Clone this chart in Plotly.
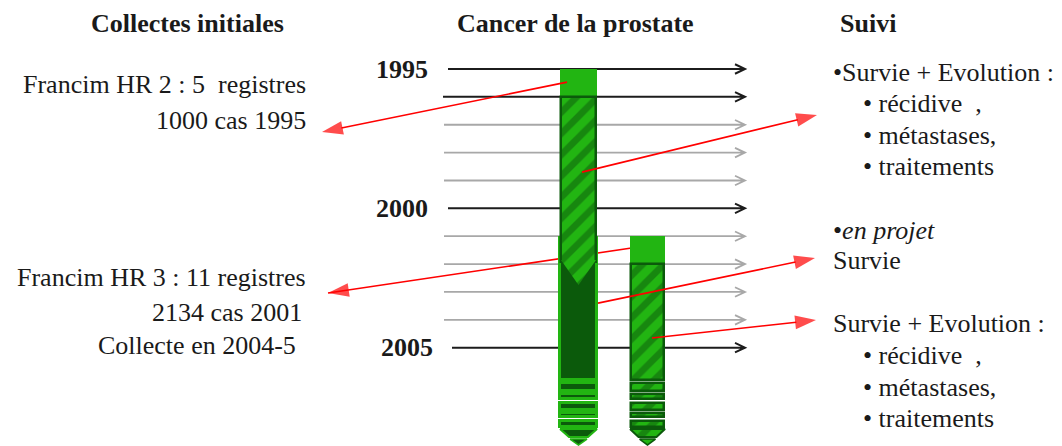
import plotly.graph_objects as go

LIGHT = "#22b512"
DARK = "#0b5a0b"
RED = "#ff0000"
BLACK_LINE = "#1c1c1c"
GREY_LINE = "#a8a8a8"
TEXT = "#1a1a1a"
FONT = "Liberation Serif"

# ---------------- data ----------------
years = [1995, 1996, 1997, 1998, 1999, 2000, 2001, 2002, 2003, 2004, 2005]
year_line_dark = [True, True, False, False, False, True, False, False, False, False, True]
year_line_start = [448, 443, 444, 444, 444, 448, 444, 444, 444, 444, 452]
year_line_end = 745
year_labels = ["1995", "2000", "2005"]
year_label_years = [1995, 2000, 2005]
year_label_right = [430, 430, 435]

bar_pos = [578.5, 647.5]          # column HR2, column HR3
c1_collect = [1995.0, 1996.0]
c1_follow = [1996.0, 2001.93]
c1_follow_tip = 2002.75
c1_dark = [2001.06, 2006.16]
c2_collect = [2001.0, 2002.0]
c2_follow = [2002.0, 2006.16]
dash_start = [2006.27, 2006.66, 2006.98, 2007.34, 2007.63]
dash_end = [2006.55, 2006.84, 2007.23, 2007.49, 2007.85]
taper = [2007.92, 2008.20]
point = [2008.28, 2008.49]

red_from_x = [567, 582, 645, 598, 652]
red_from_y = [1995.47, 1998.70, 2001.35, 2003.40, 2004.65]
red_to_x = [322, 817, 328, 815, 816]
red_to_y = [1997.26, 1996.65, 2003.04, 2001.78, 2004.01]
red_under_bars = [False, False, True, False, False]

# ---------------- page geometry (body has an 8px margin) ----------------
OFF = 8
W, H = 1062 - OFF, 446 - OFF
PX_PER_YEAR = 27.87
Y_TOP = 1995 - (69 - OFF) / PX_PER_YEAR
Y_BOT = Y_TOP + H / PX_PER_YEAR

fig = go.Figure()
hatch = dict(shape="/", fgcolor=DARK, bgcolor=LIGHT, size=15, solidity=0.45)


def bars(x, starts, ends, width, fill, lc, lw, pattern=None):
    marker = dict(color=fill, line=dict(color=lc, width=lw))
    if pattern:
        marker["pattern"] = pattern
    return go.Bar(x=[x] * len(starts), base=starts,
                  y=[e - s for s, e in zip(starts, ends)],
                  width=[width] * len(starts), marker=marker,
                  hoverinfo="skip", showlegend=False)


x1, x2 = bar_pos
fig.add_trace(bars(x1, [c1_dark[0]] + dash_start, [c1_dark[1]] + dash_end, 37, DARK, LIGHT, 3))
fig.add_trace(bars(x1, [c1_collect[0]], [c1_collect[1]], 37, LIGHT, LIGHT, 0))
fig.add_trace(bars(x1, [c1_follow[0]], [c1_follow[1]], 35, LIGHT, DARK, 2.5, hatch))
fig.add_trace(bars(x2, [c2_collect[0]], [c2_collect[1]], 35, LIGHT, LIGHT, 0))
fig.add_trace(bars(x2, [c2_follow[0]] + dash_start, [c2_follow[1]] + dash_end, 33, LIGHT, DARK, 2.5, hatch))


def poly(xs, ys, fill, lc, lw, pattern=None):
    kw = dict(x=xs, y=ys, mode="lines", fill="toself", fillcolor=fill,
              line=dict(color=lc, width=lw), hoverinfo="skip", showlegend=False)
    if pattern:
        kw["fillpattern"] = pattern
    return go.Scatter(**kw)


# pointed end of the first follow-up column
vt = c1_follow[1] - 0.08
fig.add_trace(poly([x1 - 17.5, x1 + 17.5, x1, x1 - 17.5], [vt, vt, c1_follow_tip, vt],
                   LIGHT, LIGHT, 0, hatch))
# tapered ends
fig.add_trace(poly([x1 - 18.5, x1 + 18.5, x1 + 9.5, x1 - 9.5, x1 - 18.5],
                   [taper[0], taper[0], taper[1], taper[1], taper[0]], DARK, LIGHT, 2))
fig.add_trace(poly([x1 - 8.5, x1 + 8.5, x1, x1 - 8.5],
                   [point[0], point[0], point[1], point[0]], DARK, LIGHT, 1.5))
fig.add_trace(poly([x2 - 17.5, x2 + 17.5, x2 + 9, x2 - 9, x2 - 17.5],
                   [taper[0], taper[0], taper[1], taper[1], taper[0]], LIGHT, DARK, 2, hatch))
fig.add_trace(poly([x2 - 8, x2 + 8, x2, x2 - 8],
                   [point[0], point[0], point[1], point[0]], LIGHT, DARK, 1.5, hatch))

shapes = []
# year arrows (below the columns)
for yv, dark, sx in zip(years, year_line_dark, year_line_start):
    col = BLACK_LINE if dark else GREY_LINE
    d = 0.17
    path = (f"M {sx},{yv} L {year_line_end},{yv} "
            f"M {year_line_end - 10},{yv - d} L {year_line_end},{yv} L {year_line_end - 10},{yv + d}")
    shapes.append(dict(type="path", xref="x", yref="y", path=path, layer="below",
                       line=dict(color=col, width=2 if dark else 1.8)))

# red arrows
for fx, fy, tx, ty, under in zip(red_from_x, red_from_y, red_to_x, red_to_y, red_under_bars):
    mk = dict(symbol="arrow", size=[0, 22], angleref="previous", color=RED,
              line=dict(width=0))
    if under:
        shapes.append(dict(type="line", xref="x", yref="y", x0=fx, y0=fy, x1=tx, y1=ty,
                           layer="below", line=dict(color=RED, width=1.6)))
        fig.add_trace(go.Scatter(x=[fx, tx], y=[fy, ty], mode="markers", marker=mk,
                                 hoverinfo="skip", showlegend=False))
    else:
        fig.add_trace(go.Scatter(x=[fx, tx], y=[fy, ty], mode="lines+markers",
                                 line=dict(color=RED, width=1.6), marker=mk,
                                 hoverinfo="skip", showlegend=False))


def py(px):
    return 1 - (px - OFF) / H


ann = []


def txt(t, x, ypx, anchor, size=26, bold=False):
    if bold:
        t = f"<b>{t}</b>"
    ann.append(dict(text=t, x=x, y=py(ypx), xref="x", yref="paper", xanchor=anchor,
                    yanchor="middle", showarrow=False,
                    font=dict(family=FONT, size=size, color=TEXT)))


# titles
txt("Collectes initiales", 187, 23, "center", bold=True)
txt("Cancer de la prostate", 575, 23, "center", bold=True)
txt("Suivi", 868, 23, "center", bold=True)

# left texts
txt("Francim HR 2 : 5\u00a0 registres", 308, 85, "right")
txt("1000 cas 1995", 308, 120, "right")
txt("Francim HR 3 : 11 registres", 308, 277, "right")
txt("2134 cas 2001", 304, 312, "right")
txt("Collecte en 2004-5", 298, 345, "right")

# right texts
txt("•Survie + Evolution :", 831, 72, "left")
txt("• récidive\u00a0 ,", 861, 103, "left")
txt("• métastases,", 861, 135, "left")
txt("• traitements", 861, 166, "left")
txt("•<i>en projet</i>", 831, 230, "left")
txt("Survie", 831, 260, "left")
txt("Survie + Evolution :", 831, 323, "left")
txt("• récidive\u00a0 ,", 861, 355, "left")
txt("• métastases,", 861, 387, "left")
txt("• traitements", 861, 418, "left")

# year labels
for lab, yv, xr in zip(year_labels, year_label_years, year_label_right):
    ann.append(dict(text=f"<b>{lab}</b>", x=xr, y=yv, xref="x", yref="y", xanchor="right",
                    yanchor="middle", showarrow=False,
                    font=dict(family=FONT, size=26, color=TEXT)))

fig.update_layout(
    width=W, height=H,
    margin=dict(l=0, r=0, t=0, b=0),
    paper_bgcolor="white", plot_bgcolor="white",
    barmode="overlay", bargap=0,
    showlegend=False, hovermode=False,
    shapes=shapes, annotations=ann,
    xaxis=dict(range=[OFF, 1062], visible=False, showgrid=False, zeroline=False),
    yaxis=dict(range=[Y_BOT, Y_TOP], visible=False, showgrid=False, zeroline=False),
)

fig.write_html("out.html")
